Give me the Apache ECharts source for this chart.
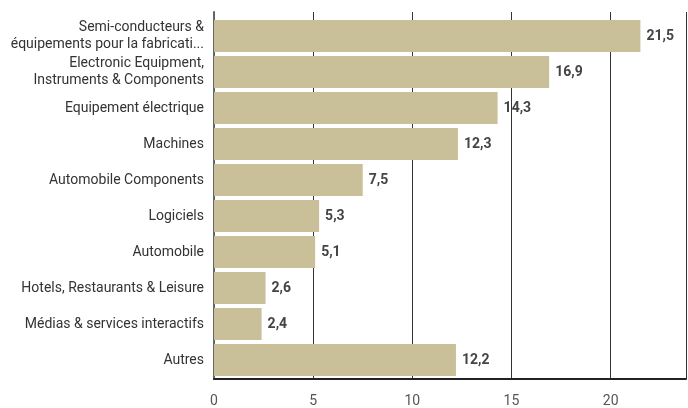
<!DOCTYPE html>
<html>
<head>
<meta charset="utf-8">
<script src="https://cdn.jsdelivr.net/npm/echarts@6/dist/echarts.min.js"></script>
<style>
  html, body { margin: 0; padding: 0; background: #fff; }
  #chart { width: 688px; height: 408px; }
</style>
</head>
<body>
<div id="chart"></div>
<script>
// categories, top to bottom
var categories = [
  'Semi-conducteurs &\néquipements pour la fabricati...',
  'Electronic Equipment,\nInstruments & Components',
  'Equipement électrique',
  'Machines',
  'Automobile Components',
  'Logiciels',
  'Automobile',
  'Hotels, Restaurants & Leisure',
  'Médias & services interactifs',
  'Autres'
];
var values = [21.5, 16.9, 14.3, 12.3, 7.5, 5.3, 5.1, 2.6, 2.4, 12.2];
var xTicks = [0, 5, 10, 15, 20];
var xMax = 23.8;

var chart = echarts.init(document.getElementById('chart'));
chart.setOption({
  animation: false,
  textStyle: { fontFamily: 'Roboto' },
  // grid 0: bars + category labels, grid 1: frame, gridlines and ticks
  grid: [
    { left: 214, right: 2, top: 18, bottom: 30 },
    { left: 214, right: 2, top: 12, bottom: 25 }
  ],
  xAxis: [{
    type: 'value', gridIndex: 0, min: 0, max: xMax, interval: 5,
    show: false
  }, {
    type: 'value', gridIndex: 1, min: 0, max: xMax, interval: 5,
    axisLine: { show: true, lineStyle: { color: '#222', width: 2 } },
    axisTick: { show: false },
    splitLine: { show: true, lineStyle: { color: '#333', width: 1 } },
    axisLabel: {
      color: '#555', fontSize: 14, margin: 15, showMaxLabel: false,
      formatter: function (v) { return xTicks.indexOf(v) >= 0 ? String(v) : ''; }
    }
  }],
  yAxis: [{
    type: 'category', gridIndex: 0,
    data: categories,
    inverse: true,
    axisLine: { show: false },
    axisTick: { show: false },
    axisLabel: { color: '#333', fontSize: 14, margin: 10, lineHeight: 17, align: 'right' }
  }, {
    type: 'category', gridIndex: 1,
    data: categories,
    inverse: true,
    axisLine: { show: true, lineStyle: { color: '#666', width: 2 } },
    axisTick: { show: false },
    axisLabel: { show: false }
  }],
  series: [{
    type: 'bar',
    xAxisIndex: 0,
    yAxisIndex: 0,
    data: values,
    barWidth: 32,
    itemStyle: { color: '#C9BF98' },
    label: {
      show: true,
      position: 'right',
      distance: 6,
      color: '#444',
      fontWeight: 'bold',
      fontSize: 14,
      formatter: function (p) { return p.value.toFixed(1).replace('.', ','); }
    }
  }]
});
</script>
</body>
</html>
